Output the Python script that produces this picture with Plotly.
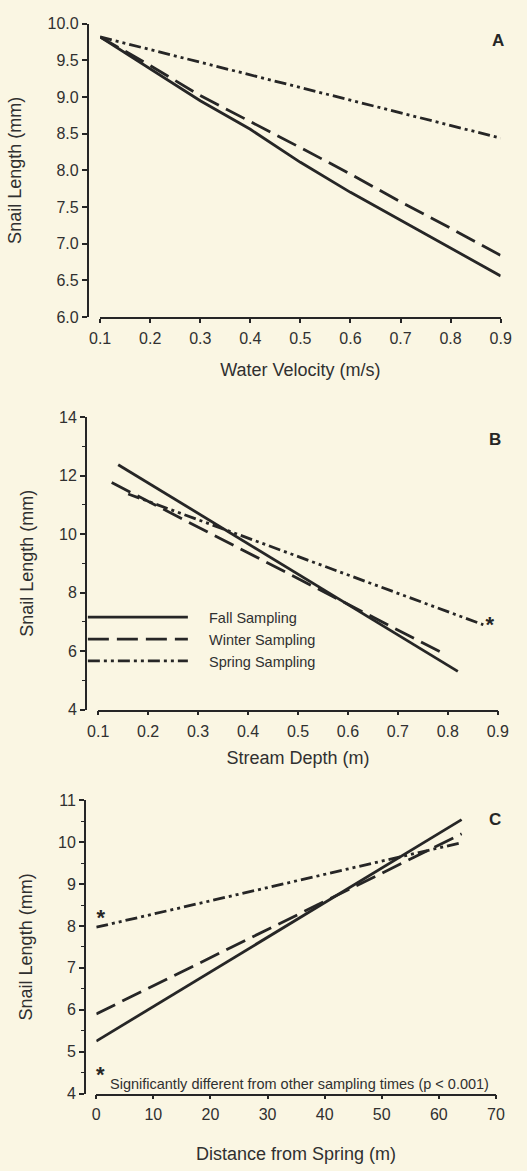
import plotly.graph_objects as go

# ---------------- data ----------------
series_names = ["Fall Sampling", "Winter Sampling", "Spring Sampling"]

# Panel A: Water velocity (m/s)
a_fall_x = [0.1, 0.2, 0.3, 0.4, 0.5, 0.6, 0.7, 0.8, 0.9]
a_fall_y = [9.82, 9.38, 8.95, 8.56, 8.11, 7.70, 7.32, 6.93, 6.56]
a_winter_x = [0.1, 0.2, 0.3, 0.4, 0.5, 0.6, 0.7, 0.8, 0.9]
a_winter_y = [9.82, 9.43, 9.02, 8.67, 8.31, 7.95, 7.57, 7.21, 6.84]
a_spring_x = [0.1, 0.9]
a_spring_y = [9.82, 8.44]
a_star = (0.915, 8.47)

# Panel B: Stream depth (m)
b_fall_x = [0.14, 0.82]
b_fall_y = [12.37, 5.31]
b_winter_x = [0.127, 0.79]
b_winter_y = [11.76, 5.93]
b_spring_x = [0.16, 0.871]
b_spring_y = [11.37, 6.90]
b_star = (0.884, 6.85)

# Panel C: Distance from spring (m)
c_fall_x = [0, 64]
c_fall_y = [5.25, 10.54]
c_winter_x = [0, 64]
c_winter_y = [5.90, 10.20]
c_spring_x = [0, 64]
c_spring_y = [7.97, 9.99]
c_star = (0.8, 8.15)

a_xticks = [0.1, 0.2, 0.3, 0.4, 0.5, 0.6, 0.7, 0.8, 0.9]
a_yticks = [6.0, 6.5, 7.0, 7.5, 8.0, 8.5, 9.0, 9.5, 10.0]
b_xticks = [0.1, 0.2, 0.3, 0.4, 0.5, 0.6, 0.7, 0.8, 0.9]
b_yticks = [4, 6, 8, 10, 12, 14]
c_xticks = [0, 10, 20, 30, 40, 50, 60, 70]
c_yticks = [4, 5, 6, 7, 8, 9, 10, 11]

footnote = "Significantly different from other sampling times (p < 0.001)"

# ---------------- style ----------------
BG = "#faf6e3"
INK = "#262626"
TXT = "#303030"
FONT = "Liberation Sans, Arial, sans-serif"
dash_styles = ["solid", "21px,8px", "12px,4px,3px,4px,3px,4px"]
widths = [2.8, 2.8, 2.8]
LEGEND_PAD = "\u00a0\u00a0\u00a0\u00a0"

fig = go.Figure()

panels = [
    ("x", "y", [(a_fall_x, a_fall_y), (a_winter_x, a_winter_y), (a_spring_x, a_spring_y)], a_star, False),
    ("x2", "y2", [(b_fall_x, b_fall_y), (b_winter_x, b_winter_y), (b_spring_x, b_spring_y)], b_star, True),
    ("x3", "y3", [(c_fall_x, c_fall_y), (c_winter_x, c_winter_y), (c_spring_x, c_spring_y)], c_star, False),
]

for xa, ya, series, star, show in panels:
    for i, (sx, sy) in enumerate(series):
        fig.add_trace(go.Scatter(
            x=sx, y=sy, mode="lines", xaxis=xa, yaxis=ya,
            name=LEGEND_PAD + series_names[i], showlegend=show,
            line=dict(color=INK, width=widths[i], dash=dash_styles[i]),
            cliponaxis=False, hoverinfo="skip",
        ))
    fig.add_trace(go.Scatter(
        x=[star[0]], y=[star[1]], mode="text", text=["<b>*</b>"], xaxis=xa, yaxis=ya,
        textfont=dict(size=22, color=INK, family=FONT), showlegend=False,
        cliponaxis=False, hoverinfo="skip",
    ))

tickfont = dict(size=16, color=TXT, family=FONT)
titlefont = dict(size=18, color=TXT, family=FONT)

def xaxis(dom, anchor, rng, ticks, fmt, standoff):
    return dict(domain=dom, anchor=anchor, range=rng, tickvals=ticks,
                ticktext=[fmt.format(t) for t in ticks],
                showline=True, linecolor=INK, linewidth=1.5, ticks="outside",
                ticklen=4, tickwidth=1.5, tickcolor=INK, showgrid=False, zeroline=False,
                tickfont=tickfont, ticklabelstandoff=2,
                title=dict(font=titlefont, standoff=standoff))

def yaxis(dom, pos, rng, ticks, fmt, minor_dtick):
    d = dict(domain=dom, anchor="free", position=pos, range=rng, tickvals=ticks,
             ticktext=[fmt.format(t) for t in ticks],
             showline=True, linecolor=INK, linewidth=1.5, ticks="outside",
             ticklen=5, tickwidth=1.5, tickcolor=INK, showgrid=False, zeroline=False,
             tickfont=tickfont,
             title=dict(text="Snail Length (mm)", font=titlefont, standoff=20))
    if minor_dtick:
        d["minor"] = dict(dtick=minor_dtick, ticks="outside", ticklen=3, tickwidth=1.2,
                          tickcolor=INK, showgrid=False)
    return d

W, H = 527, 1171
def px(v):
    return v / W
def py(v):
    return 1 - v / H

fig.update_layout(
    width=W, height=H,
    margin=dict(l=0, r=0, t=0, b=0),
    paper_bgcolor=BG, plot_bgcolor=BG,
    font=dict(family=FONT, color=TXT),
    showlegend=True,
    legend=dict(x=px(75), y=py(602), xanchor="left", yanchor="top",
                bgcolor="rgba(0,0,0,0)", font=dict(size=14.5, color=TXT, family=FONT),
                itemwidth=100, tracegroupgap=0, itemclick=False),
    xaxis=xaxis([px(93), px(511)], "y", [0.1, 0.9], a_xticks, "{:.1f}", 18),
    yaxis=yaxis([py(313.5), py(16)], px(80), [6.0, 10.0], a_yticks, "{:.1f}", None),
    xaxis2=xaxis([px(91), px(508)], "y2", [0.1, 0.9], b_xticks, "{:.1f}", 13),
    yaxis2=yaxis([py(712), py(415)], px(78), [4, 14], b_yticks, "{:d}", 1),
    xaxis3=xaxis([px(89), px(506)], "y3", [0, 70], c_xticks, "{:d}", 25),
    yaxis3=yaxis([py(1101.5), py(804)], px(77), [4, 11], c_yticks, "{:d}", 0.5),
)
fig.layout.xaxis.title.text = "Water Velocity (m/s)"
fig.layout.xaxis2.title.text = "Stream Depth (m)"
fig.layout.xaxis3.title.text = "Distance from Spring (m)"

# panel letters
for xr, yr, xv, yv, lab in [("x", "y", 0.894, 9.77, "A"),
                            ("x2", "y2", 0.894, 13.23, "B"),
                            ("x3", "y3", 69.8, 10.55, "C")]:
    fig.add_annotation(x=xv, y=yv, xref=xr, yref=yr, text="<b>" + lab + "</b>",
                       showarrow=False, font=dict(size=17, color=INK, family=FONT))

# footnote
fig.add_annotation(x=0.7, y=4.45, xref="x3", yref="y3", text="<b>*</b>", showarrow=False,
                   font=dict(size=22, color=INK, family=FONT))
fig.add_annotation(x=2.1, y=4.22, xref="x3", yref="y3", text=footnote, showarrow=False,
                   xanchor="left", yanchor="middle",
                   font=dict(size=14.5, color=TXT, family=FONT))

fig.write_html(
    "out.html",
    config={"displayModeBar": False},
    post_script="document.body.style.margin='0';document.body.style.background='" + BG + "';",
)
